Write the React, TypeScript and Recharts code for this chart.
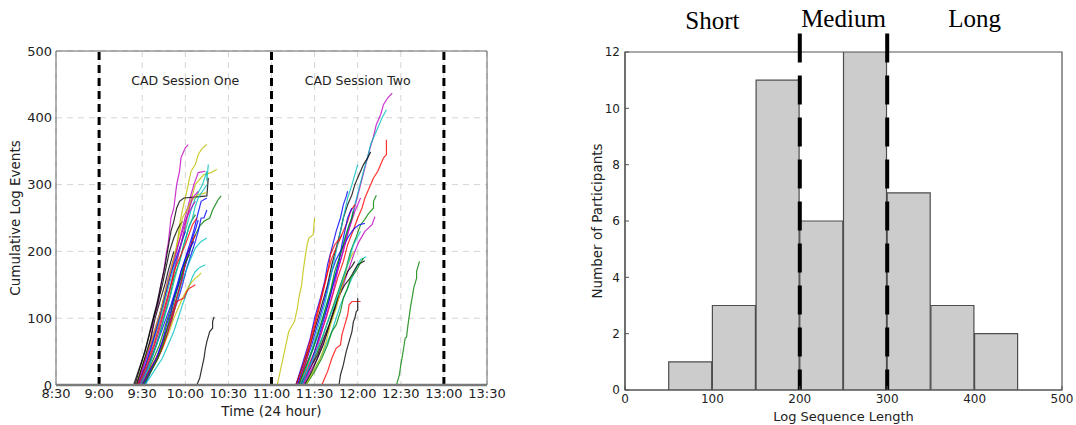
import React from 'react';
import {
  LineChart,
  Line,
  ComposedChart,
  Bar,
  XAxis,
  YAxis,
  CartesianGrid,
  ReferenceLine,
  ReferenceDot,
  ReferenceArea,
  Label,
} from 'recharts';

// ---------- Left panel: cumulative log events (time in minutes since midnight) ----------
type Pt = [number, number];

const timeTicks = [510, 540, 570, 600, 630, 660, 690, 720, 750, 780, 810];
const eventTicks = [0, 100, 200, 300, 400, 500];
const sessionBoundaries = [540, 660, 780];
const sessionTitles: [number, number, string][] = [
  [600, 456, 'CAD Session One'],
  [720, 456, 'CAD Session Two'],
];

const B = '#0000ff';
const G = '#008000';
const R = '#ff0000';
const C = '#00bfbf';
const M = '#bf00bf';
const Y = '#bfbf00';
const K = '#000000';

const sessionOneTraces: [string, Pt[]][] = [
  [M, [[567, 0], [570, 20], [574, 50], [576, 70], [578, 100], [581, 120], [583, 150], [585, 170], [587, 200], [588, 210], [590, 250], [592, 265], [594, 300], [596, 320], [597, 340], [600, 355], [602, 360]]],
  [Y, [[568, 0], [572, 25], [577, 60], [580, 85], [585, 120], [588, 150], [591, 180], [594, 205], [596, 240], [598, 262], [600, 280], [602, 300], [604, 320], [607, 330], [609, 345], [612, 355], [615, 360]]],
  [Y, [[569, 0], [575, 35], [580, 70], [585, 105], [590, 150], [594, 185], [598, 220], [600, 235], [602, 260], [605, 285], [607, 300], [610, 308], [613, 315], [618, 318], [622, 323]]],
  [M, [[566, 0], [570, 25], [574, 50], [579, 85], [584, 120], [589, 160], [594, 200], [598, 235], [601, 260], [604, 285], [606, 300], [609, 318], [614, 320]]],
  [C, [[568, 0], [574, 40], [580, 80], [585, 120], [590, 160], [595, 195], [600, 230], [604, 262], [607, 280], [612, 300], [615, 320], [615, 305], [616, 330]]],
  [K, [[565, 0], [569, 30], [573, 60], [577, 95], [580, 120], [583, 150], [586, 180], [588, 205], [590, 230], [592, 245], [594, 265], [596, 275], [599, 280], [610, 282], [615, 283], [616, 310]]],
  [K, [[564, 0], [568, 25], [572, 50], [575, 75], [578, 100], [581, 125], [584, 150], [586, 170], [589, 200], [592, 220], [595, 235], [598, 245]]],
  [G, [[570, 0], [576, 30], [582, 60], [587, 95], [592, 130], [596, 155], [600, 180], [603, 200], [606, 220], [610, 238], [613, 245], [617, 250], [619, 262], [621, 270], [623, 278], [625, 283]]],
  [B, [[569, 0], [575, 30], [580, 60], [585, 90], [590, 120], [594, 148], [597, 170], [600, 190], [603, 210], [606, 232], [608, 250], [611, 275], [615, 280]]],
  [B, [[571, 0], [577, 25], [583, 50], [588, 80], [592, 110], [595, 128], [598, 150], [601, 175], [604, 195], [607, 215], [609, 230], [611, 250], [613, 250], [615, 262]]],
  [B, [[572, 0], [579, 35], [585, 70], [590, 100], [594, 130], [597, 155], [600, 180], [603, 200], [605, 220], [607, 232], [609, 247]]],
  [C, [[571, 0], [577, 25], [583, 50], [587, 75], [591, 100], [594, 125], [597, 150], [600, 168], [603, 185], [605, 195], [607, 205], [609, 210], [611, 215], [615, 220]]],
  [C, [[572, 0], [578, 20], [584, 40], [588, 60], [592, 80], [595, 100], [598, 120], [601, 138], [603, 150], [605, 162], [607, 170], [610, 176], [614, 180]]],
  [Y, [[570, 0], [576, 25], [583, 50], [588, 75], [592, 100], [595, 115], [598, 130], [601, 142], [603, 150], [605, 155], [607, 160], [609, 163], [611, 168]]],
  [R, [[569, 0], [575, 22], [582, 50], [586, 75], [590, 100], [592, 115], [594, 130], [596, 145], [598, 160], [600, 182], [602, 200], [605, 215], [607, 225]]],
  [R, [[570, 0], [576, 20], [581, 40], [585, 60], [588, 80], [591, 100], [594, 125], [599, 130], [601, 140], [603, 145], [607, 150]]],
  [M, [[566, 0], [571, 30], [576, 60], [581, 95], [585, 130], [588, 160], [592, 190], [595, 210], [598, 230], [600, 245], [603, 260], [605, 268], [607, 275]]],
  [G, [[568, 0], [573, 25], [578, 50], [582, 75], [585, 100], [589, 130], [592, 160], [596, 185], [599, 210], [601, 225], [603, 240], [605, 248], [607, 255]]],
  [G, [[571, 0], [576, 20], [581, 40], [585, 65], [588, 90], [591, 115], [594, 140], [597, 162], [599, 180], [601, 188], [603, 195]]],
  [B, [[567, 0], [572, 28], [576, 55], [580, 85], [583, 110], [586, 135], [589, 160], [592, 180], [596, 205], [598, 218], [600, 230]]],
  [Y, [[566, 0], [571, 35], [577, 70], [582, 105], [586, 140], [590, 172], [593, 200], [596, 228], [598, 250], [601, 262], [604, 275], [607, 282], [609, 285], [615, 288]]],
  [C, [[569, 0], [575, 30], [580, 60], [584, 90], [588, 120], [591, 145], [594, 170], [597, 192], [599, 210], [602, 232], [605, 250], [607, 268], [609, 280], [612, 290], [615, 300]]],
  [K, [[608, 0], [610, 10], [611, 20], [612, 30], [613, 40], [614, 55], [615, 65], [617, 80], [619, 85], [619, 95], [620, 102]]],
  [M, [[568, 0], [573, 25], [577, 50], [581, 75], [584, 100], [588, 130], [591, 160], [594, 185], [597, 210], [599, 230], [601, 250], [603, 265], [605, 280], [607, 285], [609, 290]]],
  [R, [[567, 0], [573, 30], [578, 60], [582, 90], [586, 120], [590, 150], [593, 175], [597, 195], [600, 210], [603, 228], [605, 240], [608, 250]]],
  [B, [[570, 0], [575, 20], [580, 40], [584, 65], [587, 90], [590, 110], [592, 130], [595, 150], [597, 170], [600, 188], [602, 200], [604, 208], [606, 215]]],
  [K, [[566, 0], [571, 35], [576, 70], [579, 100], [583, 130], [586, 152], [588, 170], [590, 185], [592, 200]]],
];

const sessionTwoTraces: [string, Pt[]][] = [
  [Y, [[664, 0], [666, 20], [668, 40], [670, 60], [672, 80], [674, 88], [676, 95], [678, 115], [679, 130], [681, 150], [682, 170], [684, 200], [685, 212], [686, 220], [689, 225], [690, 250]]],
  [M, [[678, 0], [683, 25], [688, 50], [692, 75], [696, 100], [700, 125], [703, 150], [707, 178], [710, 200], [713, 225], [716, 250], [719, 275], [722, 300], [725, 325], [728, 350], [731, 372], [733, 390], [736, 405], [738, 420], [741, 430], [744, 437]]],
  [C, [[679, 0], [685, 30], [690, 60], [694, 85], [697, 110], [701, 140], [705, 170], [708, 195], [711, 220], [715, 245], [718, 270], [721, 295], [724, 320], [727, 342], [729, 360], [732, 375], [734, 385], [737, 400], [740, 412]]],
  [R, [[680, 0], [685, 25], [690, 50], [694, 75], [698, 100], [702, 130], [706, 160], [710, 185], [713, 210], [717, 232], [720, 250], [723, 265], [725, 280], [728, 295], [731, 310], [734, 320], [736, 330], [738, 340], [740, 345], [740, 367]]],
  [K, [[677, 0], [682, 30], [687, 60], [691, 90], [695, 120], [699, 150], [702, 180], [705, 205], [708, 230], [710, 250], [713, 270], [716, 285], [718, 300], [721, 315], [724, 330], [727, 340], [729, 349]]],
  [G, [[681, 0], [687, 25], [692, 50], [696, 75], [700, 100], [704, 125], [708, 150], [712, 175], [715, 200], [719, 222], [722, 240], [725, 248], [727, 255], [731, 265], [731, 275], [733, 284]]],
  [M, [[682, 0], [687, 20], [692, 40], [697, 70], [702, 100], [706, 125], [710, 150], [714, 175], [718, 200], [721, 215], [725, 230], [728, 236], [730, 240], [732, 252]]],
  [C, [[683, 0], [689, 20], [694, 40], [698, 60], [702, 80], [705, 100], [708, 120], [711, 135], [714, 150], [717, 165], [719, 175], [722, 188], [726, 192]]],
  [K, [[680, 0], [686, 22], [692, 45], [696, 68], [700, 90], [703, 110], [706, 130], [709, 142], [711, 150], [714, 158], [716, 165], [718, 173], [720, 180], [725, 186]]],
  [B, [[678, 0], [683, 30], [688, 60], [692, 90], [696, 120], [699, 145], [702, 170], [705, 188], [708, 200], [711, 212], [713, 220], [716, 230], [718, 235], [721, 240], [725, 242]]],
  [B, [[677, 0], [682, 35], [687, 70], [690, 100], [694, 130], [697, 155], [699, 180], [702, 205], [705, 230], [708, 250], [710, 270], [712, 282], [713, 290]]],
  [R, [[679, 0], [684, 35], [688, 70], [692, 105], [696, 140], [699, 168], [702, 190], [704, 200], [706, 210], [708, 220], [710, 230], [713, 245], [715, 260], [718, 270]]],
  [C, [[680, 0], [685, 30], [689, 60], [693, 90], [697, 120], [700, 150], [703, 180], [706, 210], [709, 240], [711, 260], [713, 280], [716, 300], [718, 315], [720, 330]]],
  [G, [[684, 0], [690, 20], [695, 40], [699, 60], [702, 80], [705, 90], [708, 110], [710, 130], [713, 145], [715, 160], [718, 168], [720, 175], [722, 183], [724, 190]]],
  [B, [[681, 0], [686, 25], [690, 50], [694, 80], [698, 110], [701, 135], [704, 160], [707, 185], [709, 210], [711, 230], [713, 250], [716, 265]]],
  [M, [[682, 0], [687, 25], [691, 50], [695, 80], [699, 110], [703, 140], [706, 170], [709, 195], [712, 220], [715, 240], [718, 260], [720, 270], [722, 280]]],
  [K, [[683, 0], [688, 20], [692, 40], [696, 60], [699, 80], [702, 100], [705, 120], [707, 135], [709, 150], [711, 160], [713, 170], [716, 178], [718, 185]]],
  [G, [[679, 0], [684, 28], [689, 55], [693, 82], [697, 110], [701, 140], [704, 170], [707, 190], [710, 210], [712, 225], [714, 240], [716, 250], [717, 260]]],
  [R, [[677, 0], [682, 30], [686, 60], [689, 85], [692, 110], [695, 135], [698, 160], [700, 180], [701, 195], [704, 210], [707, 218], [709, 225]]],
  [Y, [[684, 0], [689, 20], [694, 40], [698, 65], [701, 90], [705, 115], [708, 140], [711, 162], [713, 180], [715, 190], [717, 200]]],
  [C, [[681, 0], [686, 25], [691, 50], [696, 75], [700, 100], [704, 120], [707, 140], [710, 160], [713, 180], [715, 195], [717, 210], [720, 222], [722, 230]]],
  [R, [[695, 0], [697, 10], [699, 20], [702, 40], [704, 50], [705, 55], [708, 60], [709, 75], [711, 90], [713, 105], [714, 120], [716, 125], [722, 125]]],
  [K, [[707, 0], [708, 15], [710, 30], [712, 50], [714, 65], [716, 80], [717, 95], [718, 100], [719, 110], [720, 112], [720, 130]]],
  [G, [[747, 0], [749, 15], [750, 30], [751, 42], [752, 55], [753, 70], [754, 72], [755, 90], [756, 105], [757, 120], [758, 132], [759, 145], [761, 160], [761, 170], [763, 185]]],
];

// ---------- Right panel: histogram ----------
const binCenters = [75, 125, 175, 225, 275, 325, 375, 425];
const participantCounts = [1, 3, 11, 6, 12, 7, 3, 2];
const lengthTicks = [0, 100, 200, 300, 400, 500];
const countTicks = [0, 2, 4, 6, 8, 10, 12];
const categoryCuts = [200, 300];
const categoryNames: [number, number, string][] = [
  [100, 13.13, 'Short'],
  [250, 13.2, 'Medium'],
  [400, 13.2, 'Long'],
];

const FONT = 'DejaVu Sans';
const TXT = '#222';

const fmtTime = (m: number) => `${Math.floor(m / 60)}:${String(m % 60).padStart(2, '0')}`;

const histData = binCenters.map((len, i) => ({ len, count: participantCounts[i] }));

function LeftChart() {
  return (
    <LineChart width={520} height={425} margin={{ top: 51, right: 33, bottom: 0, left: 0 }} style={{ fontFamily: FONT }}>
      <CartesianGrid stroke="#d4d4d4" strokeDasharray="6 5" />
      <XAxis
        type="number"
        dataKey="t"
        domain={[510, 810]}
        ticks={timeTicks}
        tickFormatter={fmtTime}
        allowDataOverflow
        height={40}
        tickLine={false}
        tickSize={0}
        tickMargin={4}
        axisLine={{ stroke: '#7a7a7a', strokeWidth: 2.5 }}
        tick={{ fill: TXT, fontSize: 13, fontFamily: FONT }}
        interval={0}
      >
        <Label value="Time (24 hour)" position="center" dy={6} style={{ fill: TXT, fontSize: 13.5, fontFamily: FONT }} />
      </XAxis>
      <YAxis
        type="number"
        domain={[0, 500]}
        ticks={eventTicks}
        allowDataOverflow
        width={56}
        tickLine={false}
        tickSize={0}
        tickMargin={4}
        axisLine={false}
        tick={{ fill: TXT, fontSize: 13, fontFamily: FONT }}
        interval={0}
      >
        <Label value="Cumulative Log Events" angle={-90} position="center" dx={-13} style={{ fill: TXT, fontSize: 13.5, fontFamily: FONT }} />
      </YAxis>
      <ReferenceArea x1={510} x2={810} y1={0} y2={500} fill="none" fillOpacity={0} stroke="#666" strokeWidth={1} ifOverflow="visible" />
      {sessionBoundaries.map((t) => (
        <ReferenceLine key={t} x={t} stroke="#000" strokeWidth={3} strokeDasharray="8 5" />
      ))}
      {sessionTitles.map(([t, v, text]) => (
        <ReferenceDot
          key={text}
          x={t}
          y={v}
          r={0}
          fill="none"
          stroke="none"
          ifOverflow="visible"
          label={{ value: text, position: 'center', fill: TXT, fontSize: 12.5, fontFamily: FONT }}
        />
      ))}
      {[...sessionOneTraces, ...sessionTwoTraces].map(([color, pts], i) => (
        <Line
          key={i}
          data={pts.map(([t, v]) => ({ t, v }))}
          dataKey="v"
          type="linear"
          stroke={color}
          strokeOpacity={0.8}
          strokeWidth={1.2}
          dot={false}
          activeDot={false}
          isAnimationActive={false}
        />
      ))}
    </LineChart>
  );
}

function RightChart() {
  return (
    <ComposedChart
      width={506}
      height={425}
      data={histData}
      margin={{ top: 52, right: 14, bottom: 0, left: 0 }}
      style={{ fontFamily: FONT }}
    >
      <XAxis
        type="number"
        dataKey="len"
        domain={[0, 500]}
        ticks={lengthTicks}
        allowDataOverflow
        height={35}
        tickSize={-4}
        tickMargin={8}
        tickLine={{ stroke: '#555' }}
        axisLine={{ stroke: '#555', strokeWidth: 1.2 }}
        tick={{ fill: TXT, fontSize: 12, fontFamily: FONT }}
        interval={0}
      >
        <Label value="Log Sequence Length" position="center" dy={9} style={{ fill: TXT, fontSize: 13, fontFamily: FONT }} />
      </XAxis>
      <YAxis
        type="number"
        domain={[0, 12]}
        ticks={countTicks}
        allowDataOverflow
        width={55}
        tickSize={-4}
        tickMargin={9}
        tickLine={{ stroke: '#555' }}
        axisLine={{ stroke: '#555', strokeWidth: 1.2 }}
        tick={{ fill: TXT, fontSize: 12, fontFamily: FONT }}
        interval={0}
      >
        <Label value="Number of Participants" angle={-90} position="center" style={{ fill: TXT, fontSize: 13.5, fontFamily: FONT }} />
      </YAxis>
      <ReferenceArea x1={0} x2={500} y1={0} y2={12} fill="none" fillOpacity={0} stroke="#555" strokeWidth={1.2} ifOverflow="visible" />
      <Bar dataKey="count" barSize={43} fill="#cccccc" stroke="#4d4d4d" strokeWidth={1.2} isAnimationActive={false} />
      {categoryCuts.map((x) => (
        <ReferenceLine
          key={x}
          segment={[{ x, y: 12.66 }, { x, y: 0 }]}
          stroke="#000"
          strokeWidth={4}
          strokeDasharray="29 13"
          ifOverflow="visible"
        />
      ))}
      {categoryNames.map(([x, y, name]) => (
        <ReferenceDot
          key={name}
          x={x}
          y={y}
          r={0}
          fill="none"
          stroke="none"
          ifOverflow="visible"
          label={{ value: name, position: 'center', fill: '#000', fontSize: 25, fontFamily: 'Liberation Serif' }}
        />
      ))}
    </ComposedChart>
  );
}

export default function App() {
  return (
    <div style={{ position: 'absolute', left: 0, top: 0, width: 1076, height: 425, background: '#fff', overflow: 'hidden' }}>
      <div style={{ position: 'absolute', left: 0, top: 0 }}>
        <LeftChart />
      </div>
      <div style={{ position: 'absolute', left: 570, top: 0 }}>
        <RightChart />
      </div>
    </div>
  );
}
